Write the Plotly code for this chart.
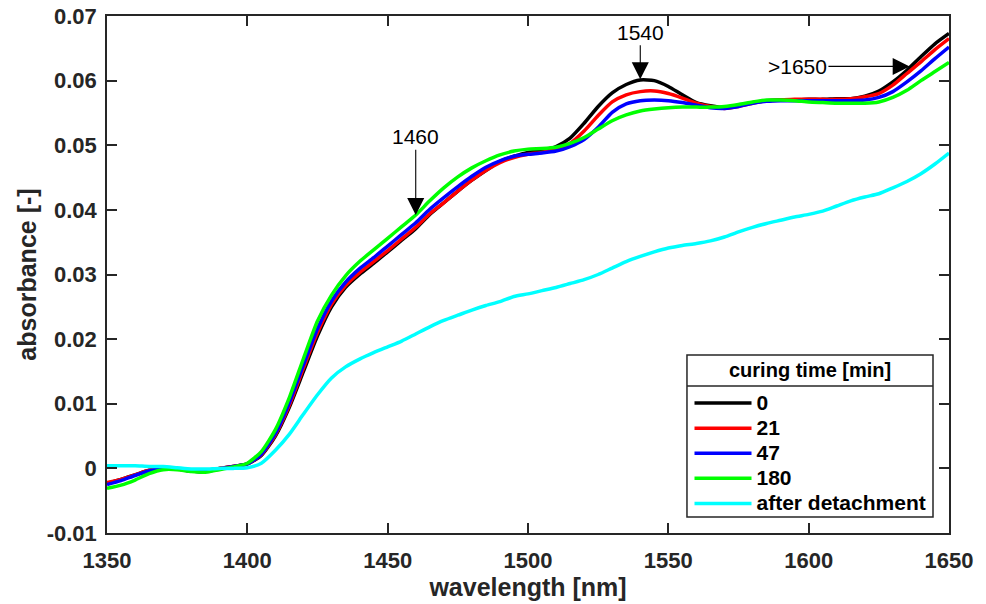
import plotly.graph_objects as go

wavelength = list(range(1350, 1651, 5))

abs_0 = [-0.0023, -0.0017, -0.0010, -0.0003, 0.0000, -0.0001, -0.0004, -0.0005, 0.0000, 0.0003,
         0.0007, 0.0020, 0.0050, 0.0095, 0.0150, 0.0205, 0.0250, 0.0280, 0.0300, 0.0317,
         0.0335, 0.0353, 0.0371, 0.0393, 0.0411, 0.0429, 0.0446, 0.0461, 0.0475, 0.0483,
         0.0489, 0.0492, 0.0498, 0.0511, 0.0534, 0.0560, 0.0581, 0.0594, 0.0601, 0.0600,
         0.0591, 0.0578, 0.0566, 0.0561, 0.0558, 0.0561, 0.0566, 0.0569, 0.0570, 0.0570,
         0.0571, 0.0571, 0.0572, 0.0572, 0.0576, 0.0584, 0.0598, 0.0616, 0.0637, 0.0657,
         0.0673]

abs_21 = [-0.0022, -0.0017, -0.0010, -0.0003, 0.0000, -0.0001, -0.0004, -0.0005, 0.0000, 0.0003,
          0.0007, 0.0021, 0.0052, 0.0098, 0.0155, 0.0210, 0.0254, 0.0283, 0.0303, 0.0320,
          0.0337, 0.0355, 0.0373, 0.0394, 0.0411, 0.0429, 0.0446, 0.0461, 0.0473, 0.0481,
          0.0486, 0.0489, 0.0494, 0.0503, 0.0522, 0.0546, 0.0567, 0.0578, 0.0583, 0.0584,
          0.0580, 0.0573, 0.0565, 0.0560, 0.0557, 0.0560, 0.0565, 0.0569, 0.0570, 0.0571,
          0.0571, 0.0571, 0.0571, 0.0572, 0.0575, 0.0580, 0.0593, 0.0611, 0.0629, 0.0648,
          0.0665]

abs_47 = [-0.0025, -0.0019, -0.0011, -0.0004, 0.0000, -0.0001, -0.0004, -0.0005, -0.0001, 0.0003,
          0.0007, 0.0022, 0.0054, 0.0102, 0.0160, 0.0216, 0.0259, 0.0288, 0.0309, 0.0326,
          0.0344, 0.0362, 0.0380, 0.0401, 0.0419, 0.0436, 0.0452, 0.0466, 0.0476, 0.0483,
          0.0486, 0.0488, 0.0491, 0.0498, 0.0509, 0.0528, 0.0551, 0.0564, 0.0569, 0.0570,
          0.0569, 0.0566, 0.0562, 0.0558, 0.0557, 0.0560, 0.0565, 0.0568, 0.0569, 0.0569,
          0.0569, 0.0569, 0.0569, 0.0569, 0.0570, 0.0574, 0.0583, 0.0598, 0.0615, 0.0634,
          0.0652]

abs_180 = [-0.0031, -0.0026, -0.0018, -0.0008, -0.0002, -0.0002, -0.0005, -0.0006, -0.0002, 0.0002,
           0.0008, 0.0026, 0.0060, 0.0110, 0.0170, 0.0228, 0.0268, 0.0298, 0.0320, 0.0338,
           0.0356, 0.0374, 0.0392, 0.0414, 0.0434, 0.0451, 0.0465, 0.0476, 0.0485, 0.0491,
           0.0494, 0.0495, 0.0497, 0.0503, 0.0512, 0.0525, 0.0538, 0.0547, 0.0553, 0.0556,
           0.0558, 0.0559, 0.0559, 0.0559, 0.0560, 0.0563, 0.0567, 0.0570, 0.0570, 0.0569,
           0.0567, 0.0566, 0.0565, 0.0565, 0.0565, 0.0567, 0.0574, 0.0585, 0.0600, 0.0614,
           0.0628]

abs_detached = [0.0004, 0.0004, 0.0004, 0.0003, 0.0003, 0.0001, -0.0001, -0.0001, 0.0000, 0.0000,
                0.0001, 0.0008, 0.0028, 0.0053, 0.0084, 0.0114, 0.0140, 0.0157, 0.0169, 0.0179,
                0.0188, 0.0197, 0.0208, 0.0219, 0.0229, 0.0237, 0.0245, 0.0252, 0.0258, 0.0266,
                0.0270, 0.0275, 0.0280, 0.0286, 0.0292, 0.0300, 0.0310, 0.0320, 0.0328, 0.0335,
                0.0341, 0.0345, 0.0348, 0.0352, 0.0358, 0.0366, 0.0373, 0.0379, 0.0384, 0.0389,
                0.0393, 0.0398, 0.0406, 0.0414, 0.0420, 0.0425, 0.0434, 0.0444, 0.0456, 0.0471,
                0.0488]

series_names = ["0", "21", "47", "180", "after detachment"]
series_values = [abs_0, abs_21, abs_47, abs_180, abs_detached]
series_colors = ["#000000", "#ff0000", "#0000ff", "#00ff00", "#00ffff"]
legend_title = "curing time [min]"

x_tickvals = [1350, 1400, 1450, 1500, 1550, 1600, 1650]
y_tickvals = [-0.01, 0, 0.01, 0.02, 0.03, 0.04, 0.05, 0.06, 0.07]
y_ticktext = ["-0.01", "0", "0.01", "0.02", "0.03", "0.04", "0.05", "0.06", "0.07"]

# annotations: (label, arrow tip x, arrow tip y, text x, text y)
peak_labels = [
    ("1460", 1460, 0.0392, 1460, 0.0513),
    ("1540", 1540, 0.0602, 1540, 0.0675),
    (">1650", 1636, 0.0622, 1596, 0.0622),
]

FONT = "Liberation Sans, Arial, sans-serif"
AXC = "#262626"

fig = go.Figure()
for name, vals, col in zip(series_names, series_values, series_colors):
    fig.add_trace(go.Scatter(x=wavelength, y=vals, mode="lines",
                             name="<span style='font-size:21px'>" + name + "</span>",
                             line=dict(color=col, width=3.5, shape="spline", smoothing=0.6)))

for txt, tx, ty, ax, ay in peak_labels:
    fig.add_annotation(x=tx, y=ty, ax=ax, ay=ay, xref="x", yref="y", axref="x", ayref="y",
                       text=txt, showarrow=True, arrowhead=2, arrowsize=3.1, arrowwidth=1.1,
                       arrowcolor="#000000", font=dict(family=FONT, size=21, color="#000000"),
                       borderpad=1)

axis_common = dict(showline=True, linecolor=AXC, linewidth=1.5, mirror="allticks",
                   ticks="inside", ticklen=10, tickwidth=1.5, tickcolor=AXC,
                   showgrid=False, zeroline=False, automargin=False, ticklabeloverflow="allow",
                   tickfont=dict(family=FONT, size=22, color=AXC, weight="bold"))

fig.update_xaxes(range=[1350, 1650], tickvals=x_tickvals, ticklabelstandoff=7,
                 title=dict(text="<b>wavelength [nm]</b>", font=dict(family=FONT, size=25, color=AXC),
                            standoff=4),
                 **axis_common)
fig.update_yaxes(range=[-0.01, 0.07], tickvals=y_tickvals, ticktext=y_ticktext, ticklabelstandoff=4,
                 title=dict(text="<b>absorbance [-]</b>", font=dict(family=FONT, size=25, color=AXC),
                            standoff=3),
                 **axis_common)

# legend frame with a title row (title drawn as text, separated by a line)
fig.add_shape(type="rect", xref="paper", yref="paper", x0=0.6888, x1=0.981, y0=0.0309, y1=0.3443,
              line=dict(color=AXC, width=1.5), fillcolor="white", layer="above")
fig.add_shape(type="line", xref="paper", yref="paper", x0=0.6888, x1=0.981, y0=0.2843, y1=0.2843,
              line=dict(color=AXC, width=1.5), layer="above")
fig.add_annotation(x=0.8349, y=0.3153, xref="paper", yref="paper", xanchor="center", yanchor="middle",
                   text="<b>" + legend_title + "</b>", showarrow=False,
                   font=dict(family=FONT, size=20, color="#000000"))

fig.update_layout(
    width=978, height=596,
    margin=dict(l=99, r=37, t=8, b=71, autoexpand=False),
    plot_bgcolor="white", paper_bgcolor="white",
    showlegend=True,
    legend=dict(x=0.981, y=0.0193, xanchor="right", yanchor="bottom",
                bgcolor="rgba(0,0,0,0)", bordercolor="rgba(0,0,0,0)", borderwidth=1.5,
                font=dict(family=FONT, size=17, color="#000000", weight="bold"),
                tracegroupgap=0, itemwidth=57),
)

fig.write_html("out.html")
